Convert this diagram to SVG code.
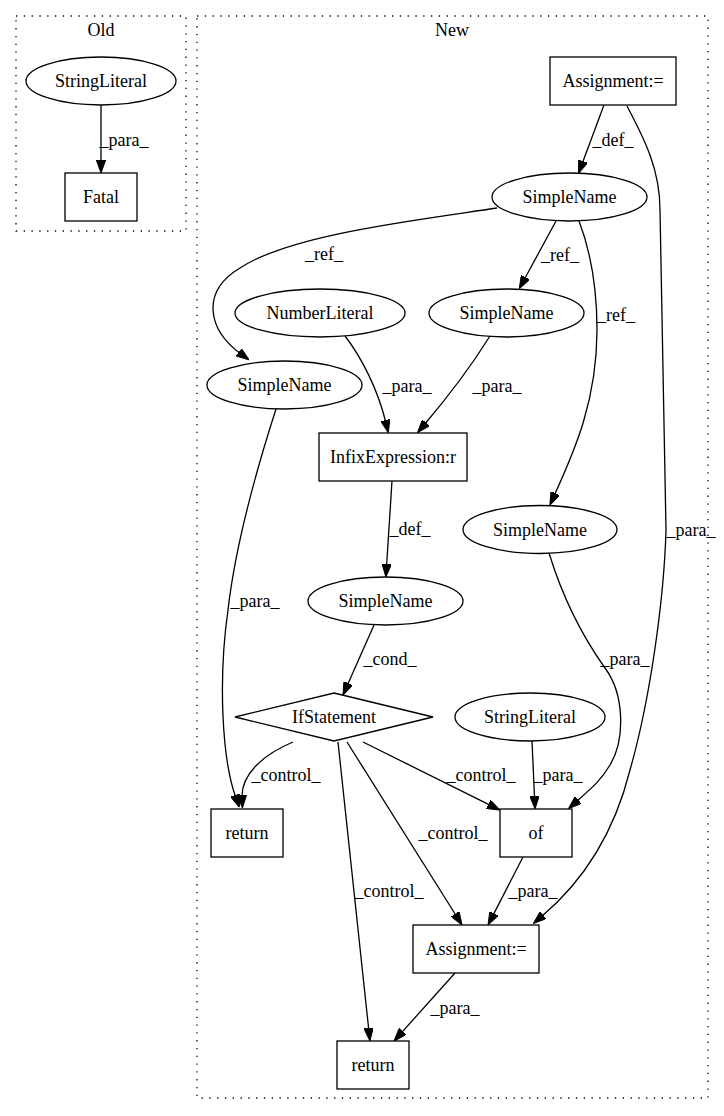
<svg xmlns="http://www.w3.org/2000/svg" width="724" height="1116" viewBox="0 0 724 1116">
<style>
text{font-family:"Liberation Serif","Times New Roman",serif;font-size:18px;fill:#000;text-anchor:middle}
.n{fill:none;stroke:#000;stroke-width:1.3}
.c{fill:none;stroke:#000;stroke-width:1.3;stroke-dasharray:1.3,6.5}
.e{fill:none;stroke:#000;stroke-width:1.3;marker-end:url(#ah)}
</style>
<defs>
<marker id="ah" markerWidth="13" markerHeight="9.4" refX="3" refY="4.7" orient="auto" markerUnits="userSpaceOnUse" viewBox="0 0 13 9.4"><polygon points="0,0 13,4.7 0,9.4" fill="#000" stroke="#000" stroke-width="1"/></marker>
</defs>
<rect width="724" height="1116" fill="#fff"/>
<g id="cluster_old">
<rect class="c" x="16" y="16" width="170" height="215"/>
<text x="101" y="36">Old</text>
</g>
<g id="cluster_new">
<rect class="c" x="197" y="16" width="511" height="1082"/>
<text x="452" y="36">New</text>
</g>
<g id="connectors">
<path class="e" d="M101,105 L101,163"/>
<text x="124" y="146">_para_</text>
<path class="e" d="M604,105 L582,164"/>
<text x="613" y="146">_def_</text>
<path class="e" d="M497,208 C410,221 290,235 240,268 C200,292 208,330 241,354"/>
<text x="324" y="260">_ref_</text>
<path class="e" d="M556,221 L524,280"/>
<text x="560" y="261">_ref_</text>
<path class="e" d="M579,221 C592,255 597,290 597,330 C597,400 575,450 554,496"/>
<text x="616" y="321">_ref_</text>
<path class="e" d="M627,106 C645,140 660,170 660,210 L666,530 C664,600 650,700 630,770 C615,830 585,880 541,917"/>
<text x="691" y="536">_para_</text>
<path class="e" d="M345,336 C362,358 378,390 386,423"/>
<text x="407" y="392">_para_</text>
<path class="e" d="M490,336 C470,368 447,398 424,425"/>
<text x="497" y="392">_para_</text>
<path class="e" d="M276,409 C258,465 236,540 228,610 C218,680 222,760 236,798"/>
<text x="255" y="607">_para_</text>
<path class="e" d="M392,481 L386.5,567"/>
<text x="410" y="535">_def_</text>
<path class="e" d="M374,625 L347,686"/>
<text x="390" y="665">_cond_</text>
<path class="e" d="M293,742 C262,755 241,775 242,798"/>
<text x="286" y="781">_control_</text>
<path class="e" d="M363,742 L491,805.6"/>
<text x="481" y="781">_control_</text>
<path class="e" d="M347,742 L456.7,916.5"/>
<text x="453" y="839">_control_</text>
<path class="e" d="M338,742 L368.9,1031"/>
<text x="389" y="897">_control_</text>
<path class="e" d="M532,741 L534.6,799"/>
<text x="558" y="781">_para_</text>
<path class="e" d="M549,553 C565,605 585,640 605,668 C625,695 625,740 610,765 C601,780 594,786 576,802"/>
<text x="625" y="665">_para_</text>
<path class="e" d="M523,857 L492.6,916.1"/>
<text x="533" y="897">_para_</text>
<path class="e" d="M455,973 L400.7,1033.6"/>
<text x="455" y="1014">_para_</text>
</g>
<g id="old_stringliteral">
<ellipse class="n" cx="101" cy="81" rx="75" ry="24"/>
<text x="101" y="87">StringLiteral</text>
</g>
<g id="old_fatal">
<rect class="n" x="65" y="173" width="72" height="48"/>
<text x="101" y="203">Fatal</text>
</g>
<g id="assign_top">
<rect class="n" x="550" y="57" width="126" height="48"/>
<text x="613" y="87">Assignment:=</text>
</g>
<g id="simplename_top">
<ellipse class="n" cx="569.5" cy="197" rx="77.5" ry="24"/>
<text x="569.5" y="203">SimpleName</text>
</g>
<g id="numberliteral">
<ellipse class="n" cx="320" cy="313" rx="85" ry="24"/>
<text x="320" y="319">NumberLiteral</text>
</g>
<g id="simplename_mid">
<ellipse class="n" cx="506.5" cy="313" rx="77.5" ry="24"/>
<text x="506.5" y="319">SimpleName</text>
</g>
<g id="simplename_left">
<ellipse class="n" cx="284.5" cy="385" rx="77.5" ry="24"/>
<text x="284.5" y="391">SimpleName</text>
</g>
<g id="infix">
<rect class="n" x="319" y="433" width="148" height="48"/>
<text x="393" y="463">InfixExpression:r</text>
</g>
<g id="simplename_right">
<ellipse class="n" cx="540" cy="529.5" rx="77" ry="24"/>
<text x="540" y="535.5">SimpleName</text>
</g>
<g id="simplename_lower">
<ellipse class="n" cx="385.5" cy="601" rx="77.5" ry="24"/>
<text x="385.5" y="607">SimpleName</text>
</g>
<g id="ifstatement">
<polygon class="n" points="334,693 433,717 334,741 235,717"/>
<text x="334" y="723">IfStatement</text>
</g>
<g id="stringliteral_new">
<ellipse class="n" cx="530" cy="717" rx="75" ry="24"/>
<text x="530" y="723">StringLiteral</text>
</g>
<g id="return_left">
<rect class="n" x="211" y="809" width="72" height="48"/>
<text x="247" y="839">return</text>
</g>
<g id="of">
<rect class="n" x="500" y="809" width="72" height="48"/>
<text x="536" y="839">of</text>
</g>
<g id="assign_bottom">
<rect class="n" x="413" y="925" width="126" height="48"/>
<text x="476" y="955">Assignment:=</text>
</g>
<g id="return_bottom">
<rect class="n" x="337" y="1041" width="72" height="48"/>
<text x="373" y="1071">return</text>
</g>
</svg>
